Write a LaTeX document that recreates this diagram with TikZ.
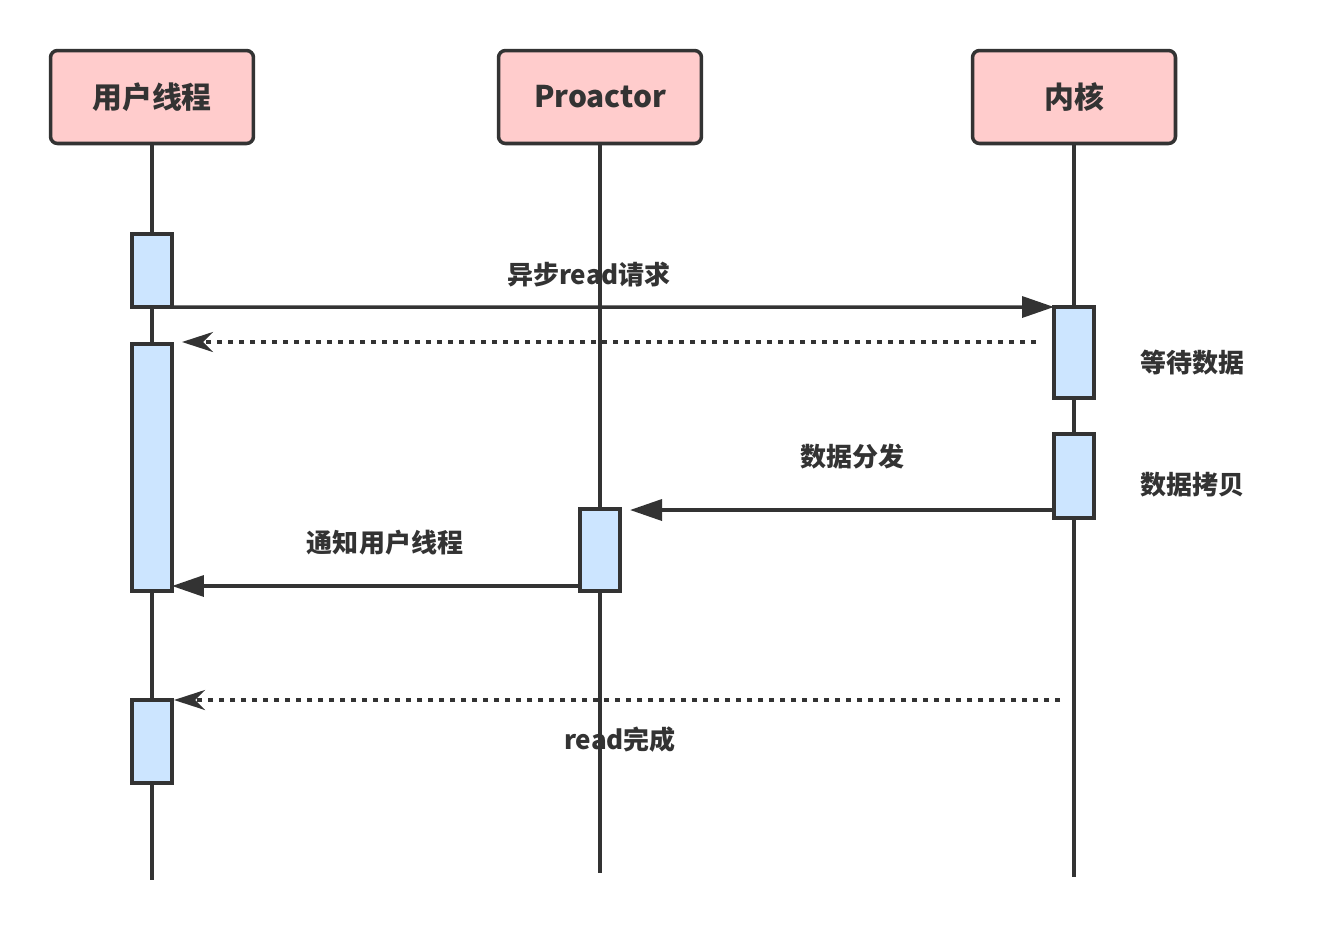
\documentclass[tikz,border=0pt]{standalone}
\usepackage{fontspec}
\setmainfont{Noto Sans CJK SC}
\usepackage{tikz}
\usetikzlibrary{arrows.meta, positioning, calc}
\definecolor{headpink}{HTML}{FFCCCC}
\definecolor{barblue}{HTML}{CCE5FF}
\definecolor{inkgray}{HTML}{333333}
\tikzset{
  header/.style={draw=inkgray, fill=headpink, line width=2pt, rounded corners=4pt,
    minimum width=4.06cm, minimum height=1.86cm, font=\fontsize{17}{19}\selectfont\bfseries, text=inkgray},
  actbar/.style={draw=inkgray, fill=barblue, line width=2pt, minimum width=0.8cm, inner sep=0pt, outer sep=0pt},
  lifeline/.style={draw=inkgray, line width=2pt},
  msg/.style={draw=inkgray, line width=2pt, -{Triangle[length=0.64cm,width=0.42cm]}},
  reply/.style={draw=inkgray, line width=2pt, dash pattern=on 0.11cm off 0.11cm,
    -{Stealth[length=0.62cm,width=0.4cm,inset=0.2cm]}},
  lbl/.style={font=\fontsize{14.8}{17}\selectfont\bfseries, text=inkgray, inner sep=0pt}
}
\newcommand{\actbar}[4]{% name, x, top y, bottom y
  \node[actbar, minimum height={(#4-#3)*0.02cm}] (#1) at (#2,{(#3+#4)/2}) {};%
}
\begin{document}
\begin{tikzpicture}[x=0.02cm, y=-0.02cm]
    \useasboundingbox (0,0) rectangle (1334,930);

    % heads
    \node[header] (user) at (152,97) {用户线程};
    \node[header] (proactor) at (600,97) {Proactor};
    \node[header] (kernel) at (1074,97) {内核};

    % lifelines
    \coordinate (userend) at (152,880);
    \coordinate (proend) at (600,873);
    \coordinate (kerend) at (1074,877);
    \draw[lifeline] (user.south) -- (userend);
    \draw[lifeline] (proactor.south) -- (proend);
    \draw[lifeline] (kernel.south) -- (kerend);

    % activation bars
    \actbar{u1}{152}{234}{307}
    \actbar{u2}{152}{344}{591}
    \actbar{u3}{152}{700}{783}
    \actbar{p1}{600}{509}{591}
    \actbar{k1}{1074}{307}{398}
    \actbar{k2}{1074}{434}{518}

    % messages
    \draw[msg] (u1.south east) -- (k1.north west);
    \node[lbl] (asyncread) at (589,275) {异步read请求};

    \coordinate (r1from) at (1036,342);
    \coordinate (r1to) at (182,342);
    \draw[reply] (r1from) -- (r1to);

    \coordinate (d1from) at (1054,510);
    \coordinate (d1to) at (630,510);
    \draw[msg] (d1from) -- (d1to);
    \node[lbl] (dispatch) at (852,457) {数据分发};

    \draw[msg] (p1.west |- 0,586) -- (u2.east |- 0,586);
    \node[lbl] (notify) at (385,543) {通知用户线程};

    \coordinate (r2from) at (1060,700);
    \coordinate (r2to) at (174,700);
    \draw[reply] (r2from) -- (r2to);
    \node[lbl] (readdone) at (620,740) {read完成};

    \node[lbl] (waitdata) at (1192,363) {等待数据};
    \node[lbl] (copydata) at (1192,485) {数据拷贝};
\end{tikzpicture}
\end{document}
